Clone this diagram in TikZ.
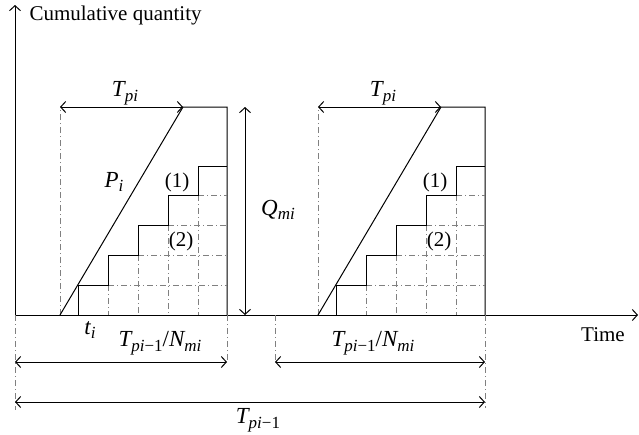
\documentclass[tikz,border=0pt]{standalone}
\usepackage{fontspec}
\setmainfont{Liberation Serif}
\usetikzlibrary{arrows.meta}
\newcommand\lsub[2]{{\itshape #1}\raisebox{-0.45ex}{\fontsize{17}{18}\selectfont #2}}
\newcommand\umin{\char"2212\relax}
\begin{document}
\begin{tikzpicture}[x=1pt,y=-1pt,line width=1pt,
  >={Straight Barb[length=5pt,width=11pt]},
  guide/.style={gray,line width=0.9pt,dash pattern=on 6pt off 3pt on 1pt off 3pt},
  gridl/.style={gray,line width=0.9pt,dash pattern=on 6pt off 3pt on 1pt off 3pt},
  lbl/.style={font=\fontsize{21}{24}\selectfont,inner sep=0pt},
  mlbl/.style={font=\fontsize{23}{26}\selectfont,inner sep=0pt}]
\useasboundingbox (0,0) rectangle (639,434);
% axes
\coordinate (O) at (15,315);
\coordinate (Ytop) at (15,5);
\coordinate (Xend) at (638,315);
\draw[->] (O) -- (Ytop);
\draw[->] (O) -- (Xend);
\node[lbl,anchor=west] (ylab) at (29,15) {Cumulative quantity};
\node[lbl] (xlab) at (603,335) {Time};
% blocks
\foreach \o/\n in {0/A,258/B}{
  \coordinate (\n gb) at (60+\o,315);
  \coordinate (\n gt) at (60+\o,107);
  \coordinate (\n apex) at (183+\o,107);
  \coordinate (\n tr) at (227+\o,107);
  \coordinate (\n br) at (227+\o,315);
  \draw[guide] (\n gb) -- (\n gt);
  \draw[<->] (\n gt) -- (\n apex);
  \draw (\n gb) -- (\n apex) -- (\n tr) -- (\n br);
  % grid
  \draw[gridl] (108+\o,285) -- (227+\o,285);
  \draw[gridl] (138+\o,255) -- (227+\o,255);
  \draw[gridl] (168+\o,225) -- (227+\o,225);
  \draw[gridl] (198+\o,195) -- (227+\o,195);
  \draw[gridl] (108+\o,285) -- (108+\o,315);
  \draw[gridl] (138+\o,255) -- (138+\o,315);
  \draw[gridl] (168+\o,225) -- (168+\o,315);
  \draw[gridl] (198+\o,195) -- (198+\o,315);
  % staircase
  \draw (78+\o,315) -- (78+\o,285) -- (108+\o,285) -- (108+\o,255) -- (138+\o,255)
        -- (138+\o,225) -- (168+\o,225) -- (168+\o,195) -- (198+\o,195)
        -- (198+\o,166) -- (227+\o,166);
  \node[lbl] (\n one) at (177+\o,182) {(1)};
  \node[lbl] (\n two) at (181+\o,241) {(2)};
  \node[mlbl] (\n tp) at (125+\o,93) {\lsub{T}{\itshape pi}};
}
\node[mlbl] (pi) at (114,182) {\lsub{P}{\itshape i}};
% Q_mi
\coordinate (Qt) at (245,107);
\coordinate (Qb) at (245,315);
\draw[<->] (Qt) -- (Qb);
\node[mlbl] (Q) at (278,210) {\lsub{Q}{\itshape mi}};
% bottom guides
\coordinate (g1a) at (15,315);  \coordinate (g1b) at (15,410);
\coordinate (g2a) at (227,315); \coordinate (g2b) at (227,362);
\coordinate (g3a) at (275,315); \coordinate (g3b) at (275,362);
\coordinate (g4a) at (485,315); \coordinate (g4b) at (485,408);
\draw[guide] (g1a) -- (g1b);
\draw[guide] (g2a) -- (g2b);
\draw[guide] (g3a) -- (g3b);
\draw[guide] (g4a) -- (g4b);
\coordinate (a1l) at (15,362);  \coordinate (a1r) at (227,362);
\coordinate (a2l) at (275,362); \coordinate (a2r) at (485,362);
\coordinate (a3l) at (15,402);  \coordinate (a3r) at (485,402);
\draw[<->] (a1l) -- (a1r);
\draw[<->] (a2l) -- (a2r);
\draw[<->] (a3l) -- (a3r);
\node[mlbl] (ti) at (90,330) {\lsub{t}{\itshape i}};
\node[mlbl] (n1) at (160,343) {\lsub{T}{{\itshape pi}\umin1}/\lsub{N}{\itshape mi}};
\node[mlbl] (n2) at (373,343) {\lsub{T}{{\itshape pi}\umin1}/\lsub{N}{\itshape mi}};
\node[mlbl] (tp1) at (258,420) {\lsub{T}{{\itshape pi}\umin1}};
\end{tikzpicture}
\end{document}
